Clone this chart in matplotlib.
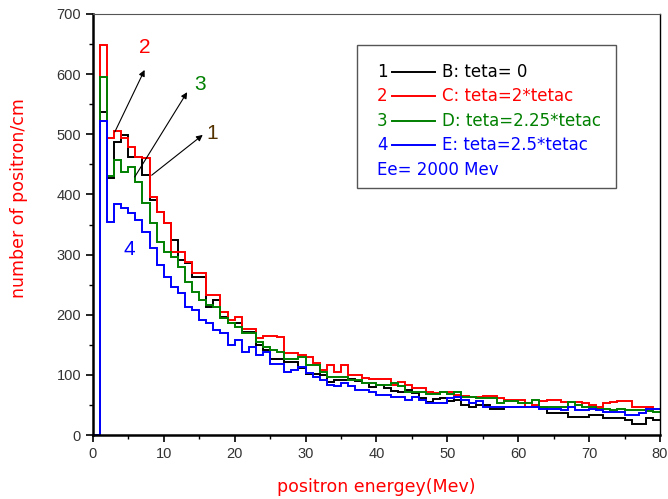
import numpy as np
import matplotlib
matplotlib.use("Agg")
import matplotlib.pyplot as plt

plt.rcParams['font.family'] = ['Liberation Sans', 'DejaVu Sans']

# histogram bins 0..80 Mev, 1 Mev wide
edges = np.arange(0, 81)

teta_0 = [0, 537, 428, 487, 499, 462, 462, 432, 391, 371,
          352, 324, 291, 286, 263, 263, 213, 224, 197, 186,
          186, 172, 172, 149, 141, 127, 127, 122, 122, 111,
          102, 102, 100, 88, 91, 92, 94, 90, 86, 80,
          84, 78, 74, 72, 75, 70, 62, 55, 60, 62,
          56, 58, 50, 46, 50, 50, 44, 44, 47, 46,
          46, 46, 46, 46, 36, 36, 36, 30, 30, 30,
          33, 33, 28, 28, 28, 25, 19, 19, 28, 25]

teta_2 = [0, 648, 494, 505, 494, 479, 462, 460, 396, 371,
          352, 304, 304, 288, 269, 269, 233, 233, 205, 191,
          197, 177, 177, 161, 164, 164, 163, 136, 136, 133,
          130, 120, 108, 116, 105, 116, 100, 100, 95, 93,
          93, 93, 83, 88, 83, 78, 78, 72, 70, 72,
          72, 67, 65, 63, 63, 65, 65, 61, 58, 58,
          58, 47, 50, 56, 58, 58, 55, 55, 55, 53,
          50, 47, 53, 55, 56, 56, 47, 47, 46, 44]

teta_225 = [0, 595, 430, 457, 438, 446, 420, 385, 352, 321,
            304, 296, 280, 254, 238, 224, 216, 213, 195, 186,
            180, 169, 169, 155, 147, 141, 138, 127, 127, 130,
            116, 116, 105, 97, 97, 97, 92, 92, 86, 86,
            83, 83, 86, 81, 72, 72, 72, 69, 69, 72,
            69, 72, 64, 63, 61, 61, 61, 53, 56, 56,
            53, 53, 58, 47, 47, 47, 47, 55, 50, 47,
            47, 44, 44, 42, 44, 42, 42, 42, 40, 39]

teta_25 = [0, 522, 355, 384, 377, 369, 357, 338, 311, 283,
           263, 247, 236, 213, 208, 191, 186, 175, 170, 149,
           158, 138, 147, 133, 138, 119, 119, 105, 108, 113,
           103, 97, 92, 83, 81, 86, 81, 75, 75, 72,
           67, 67, 64, 64, 58, 64, 58, 53, 53, 53,
           61, 64, 58, 53, 56, 46, 47, 47, 47, 46,
           46, 46, 46, 44, 44, 44, 42, 46, 42, 42,
           44, 42, 39, 39, 39, 33, 33, 36, 44, 44]

series = [teta_0, teta_2, teta_225, teta_25]
colors = ['black', '#ff0000', '#008000', '#0000ff']
nums = ['1', '2', '3', '4']
labels = ['B: teta= 0', 'C: teta=2*tetac', 'D: teta=2.25*tetac', 'E: teta=2.5*tetac']

fig = plt.figure(figsize=(6.68, 4.99), dpi=100)
ax = fig.add_axes([0.139, 0.128, 0.849, 0.844])

for vals, c in zip(series, colors):
    ax.stairs(vals, edges, baseline=None, color=c, lw=1.4)

ax.set_xlim(0, 80)
ax.set_ylim(0, 700)
ax.set_xticks(np.arange(0, 81, 10))
ax.set_xticks(np.arange(0, 81, 5), minor=True)
ax.set_yticks(np.arange(0, 701, 100))
ax.set_yticks(np.arange(0, 701, 50), minor=True)
ax.tick_params(direction='out', labelsize=10.5, labelcolor='#333333', width=1.2, length=5)
ax.tick_params(which='minor', direction='out', width=1.0, length=3)
for s in ['left', 'bottom']:
    ax.spines[s].set_linewidth(1.8)
ax.spines['top'].set_linewidth(0.8)
ax.spines['top'].set_color('#555555')
ax.spines['right'].set_linewidth(1.0)

fig.text(376 / 668, 1 - 487 / 499, 'positron energey(Mev)', color='#ff0000',
         fontsize=12.5, family='DejaVu Sans', ha='center', va='center')
fig.text(19 / 668, 1 - 198 / 499, 'number of positron/cm', color='#ff0000',
         fontsize=12.5, family='DejaVu Sans', ha='center', va='center', rotation=90)

# legend box
box = plt.Rectangle((0.466, 0.587), 0.456, 0.339, transform=ax.transAxes,
                    fill=False, edgecolor='#555555', lw=1.0)
ax.add_patch(box)
rows = [0.863, 0.806, 0.747, 0.688, 0.629]
for i in range(4):
    y = rows[i]
    ax.text(0.501, y, nums[i], color=colors[i], fontsize=12, family='DejaVu Sans',
            transform=ax.transAxes, va='center', ha='left')
    ax.plot([0.527, 0.603], [y, y], color=colors[i], lw=1.4, transform=ax.transAxes)
    ax.text(0.615, y, labels[i], color=colors[i], fontsize=12, family='DejaVu Sans',
            transform=ax.transAxes, va='center', ha='left')
ax.text(0.501, rows[4], 'Ee= 2000 Mev', color='#0000ff', fontsize=12, family='DejaVu Sans',
        transform=ax.transAxes, va='center', ha='left')

# curve labels with arrows
arrow = dict(arrowstyle='-|>', lw=0.8, color='black', mutation_scale=9, shrinkA=0, shrinkB=0)
ax.annotate('', xy=(7.3, 607), xytext=(3.1, 504), arrowprops=arrow)
ax.annotate('', xy=(13.3, 570), xytext=(5.9, 429), arrowprops=arrow)
ax.annotate('', xy=(15.5, 499), xytext=(8.3, 432), arrowprops=arrow)
ax.text(7.3, 645, '2', color='#ff0000', fontsize=15, ha='center', va='center')
ax.text(15.1, 582, '3', color='#008000', fontsize=15, ha='center', va='center')
ax.text(16.9, 502, '1', color='#553300', fontsize=15, ha='center', va='center')
ax.text(5.2, 308, '4', color='#0000ff', fontsize=15, ha='center', va='center')

fig.savefig('out.png', dpi=100)
